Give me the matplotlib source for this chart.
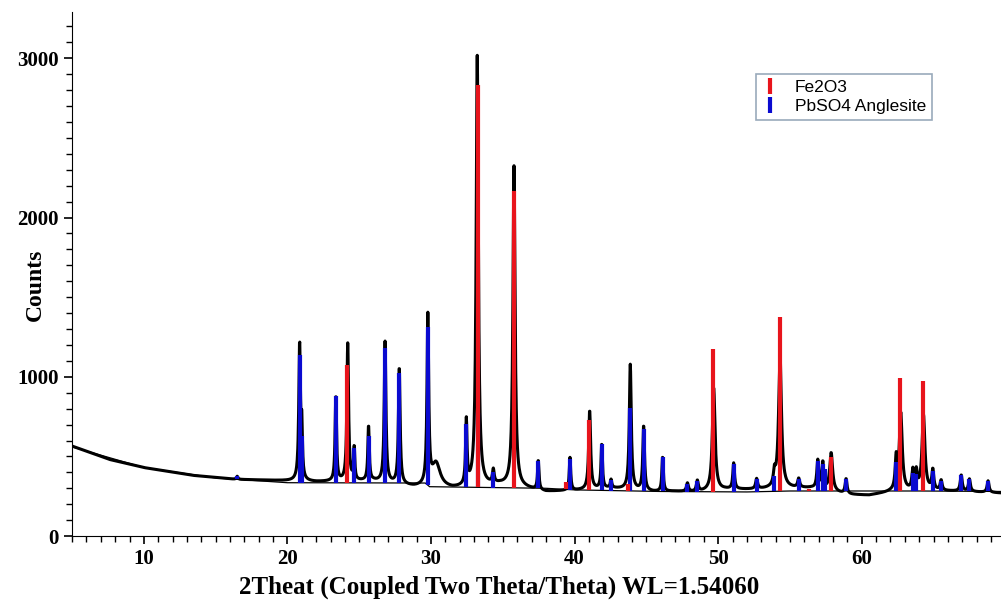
import matplotlib
matplotlib.use("Agg")
import matplotlib.pyplot as plt
from matplotlib.lines import Line2D
from matplotlib.ticker import MultipleLocator
import numpy as np

# observed pattern: peak position (2theta), top (counts), half width
obs_pos = [16.5, 20.85, 21.0, 23.37, 24.2, 24.65, 25.65, 26.8, 27.79, 29.78, 30.35,
           32.46, 33.22, 34.34, 35.78, 37.47, 39.68, 41.05, 41.89, 42.54, 43.88,
           44.81, 46.13, 47.86, 48.55, 49.69, 51.08, 52.68, 53.92, 54.31, 55.61,
           56.94, 57.29, 57.87, 58.91, 62.4, 62.72, 63.56, 63.8, 64.3, 64.95,
           65.53, 66.93, 67.5, 68.8]
obs_top = [375, 1200, 640, 880, 1205, 550, 690, 1216, 1055, 1360, 450,
           705, 3010, 400, 2320, 470, 490, 787, 575, 350, 1075,
           690, 496, 330, 345, 930, 454, 356, 377, 1130, 356,
           470, 454, 519, 356, 467, 762, 398, 390, 756, 408,
           346, 381, 356, 346]
obs_hw = [0.06, 0.07, 0.05, 0.06, 0.07, 0.05, 0.06, 0.07, 0.07, 0.07, 0.35,
          0.06, 0.09, 0.07, 0.09, 0.06, 0.06, 0.08, 0.06, 0.06, 0.08,
          0.07, 0.06, 0.08, 0.08, 0.11, 0.07, 0.08, 0.08, 0.12, 0.08,
          0.08, 0.07, 0.12, 0.08, 0.08, 0.12, 0.08, 0.08, 0.12, 0.08,
          0.08, 0.08, 0.08, 0.08]

# baseline of the observed trace
base_x = [5, 7.6, 10, 13.4, 16.4, 20.3, 22, 26, 28.8, 31.5, 34.8, 36.5, 38, 40,
          42.5, 45.5, 47, 48.5, 50.5, 52.5, 55, 56.5, 59, 60.5, 62, 65, 67, 69.7]
base_y = [565, 481, 430, 381, 356, 346, 340, 345, 306, 294, 320, 300, 278, 285,
          300, 278, 280, 275, 292, 292, 300, 300, 260, 255, 275, 283, 280, 270]

# fitted background line
bg_x = [5, 10, 15, 20, 29.6, 29.9, 38, 40, 46, 52, 55, 64, 69.7]
bg_y = [560, 430, 365, 335, 333, 310, 300, 290, 280, 277, 283, 283, 280]

# reference sticks (absolute top in counts)
fe_pos = [24.15, 33.27, 35.78, 39.4, 41.02, 43.7, 49.67, 54.29, 56.36, 57.85, 62.7, 64.28]
fe_top = [1075, 2835, 2169, 337, 731, 325, 1175, 1373, 294, 498, 991, 975]

pb_pos = [16.5, 20.87, 21.0, 23.37, 24.65, 25.65, 26.81, 27.79, 29.78, 32.46, 33.29,
          34.34, 37.47, 39.68, 41.89, 42.54, 43.88, 44.81, 46.13, 47.86, 48.55,
          51.08, 52.68, 53.92, 55.61, 56.94, 57.29, 57.47, 58.91, 62.4, 63.56,
          63.8, 64.95, 65.53, 66.93, 67.5, 68.8]
pb_top = [377, 1137, 631, 881, 550, 627, 1180, 1025, 1315, 705, 775,
          400, 470, 487, 575, 350, 804, 670, 496, 325, 346,
          454, 356, 377, 356, 470, 454, 420, 356, 467, 398,
          390, 408, 346, 381, 356, 346]

x = np.arange(5, 69.75, 0.02)
y = np.interp(x, base_x, base_y)
for p, t, w in zip(obs_pos, obs_top, obs_hw):
    h = t - np.interp(p, base_x, base_y)
    y = y + h / (1 + ((x - p) / w) ** 2)

fig = plt.figure(figsize=(10.01, 6.03), dpi=100)
ax = fig.add_axes([0.072, 0.111, 0.928, 0.869])

ax.plot(x, y, color='black', lw=2.2, zorder=2)
ax.plot(bg_x, bg_y, color='black', lw=0.9, zorder=3)

fe_base = np.interp(fe_pos, bg_x, bg_y)
pb_base = np.interp(pb_pos, bg_x, bg_y)
ax.vlines(pb_pos, pb_base, pb_top, color='#0a0ad0', lw=3.0, zorder=4)
ax.vlines(fe_pos, fe_base, fe_top, color='#e8141c', lw=3.0, zorder=4)

ax.set_xlim(5, 69.7)
ax.set_ylim(0, 3290)
ax.spines['top'].set_visible(False)
ax.spines['right'].set_visible(False)
ax.xaxis.set_major_locator(MultipleLocator(10))
ax.xaxis.set_minor_locator(MultipleLocator(1))
ax.yaxis.set_major_locator(MultipleLocator(1000))
ax.yaxis.set_minor_locator(MultipleLocator(100))
ax.tick_params(which='major', length=6, width=1.2, labelsize=15)
ax.tick_params(which='minor', length=4, width=1)
for lab in ax.get_xticklabels() + ax.get_yticklabels():
    lab.set_fontfamily('Liberation Serif')
    lab.set_fontweight('bold')

ax.set_xlabel('2Theat (Coupled Two Theta/Theta) WL=1.54060', fontfamily='Liberation Serif',
              fontweight='bold', fontsize=18)
ax.xaxis.set_label_coords(0.46, -0.076)
ax.set_ylabel('Counts', fontfamily='Liberation Serif', fontweight='bold', fontsize=17)
ax.yaxis.set_label_coords(-0.028, 0.479)

handles = [Line2D([], [], color='#e8141c', marker='|', ls='None', markersize=11, markeredgewidth=3),
           Line2D([], [], color='#0a0ad0', marker='|', ls='None', markersize=11, markeredgewidth=3)]
leg = fig.legend(handles, ['Fe2O3', 'PbSO4 Anglesite'], loc='upper left',
                 bbox_to_anchor=(0.755, 0.877), prop={'family': 'Liberation Sans', 'size': 12.5},
                 fancybox=False, edgecolor='#9aaabb', framealpha=1, labelspacing=0.2,
                 borderpad=0.35, borderaxespad=0, handlelength=0.9, handletextpad=1.0)
leg.get_frame().set_linewidth(1.2)

fig.savefig('out.png', dpi=100)
